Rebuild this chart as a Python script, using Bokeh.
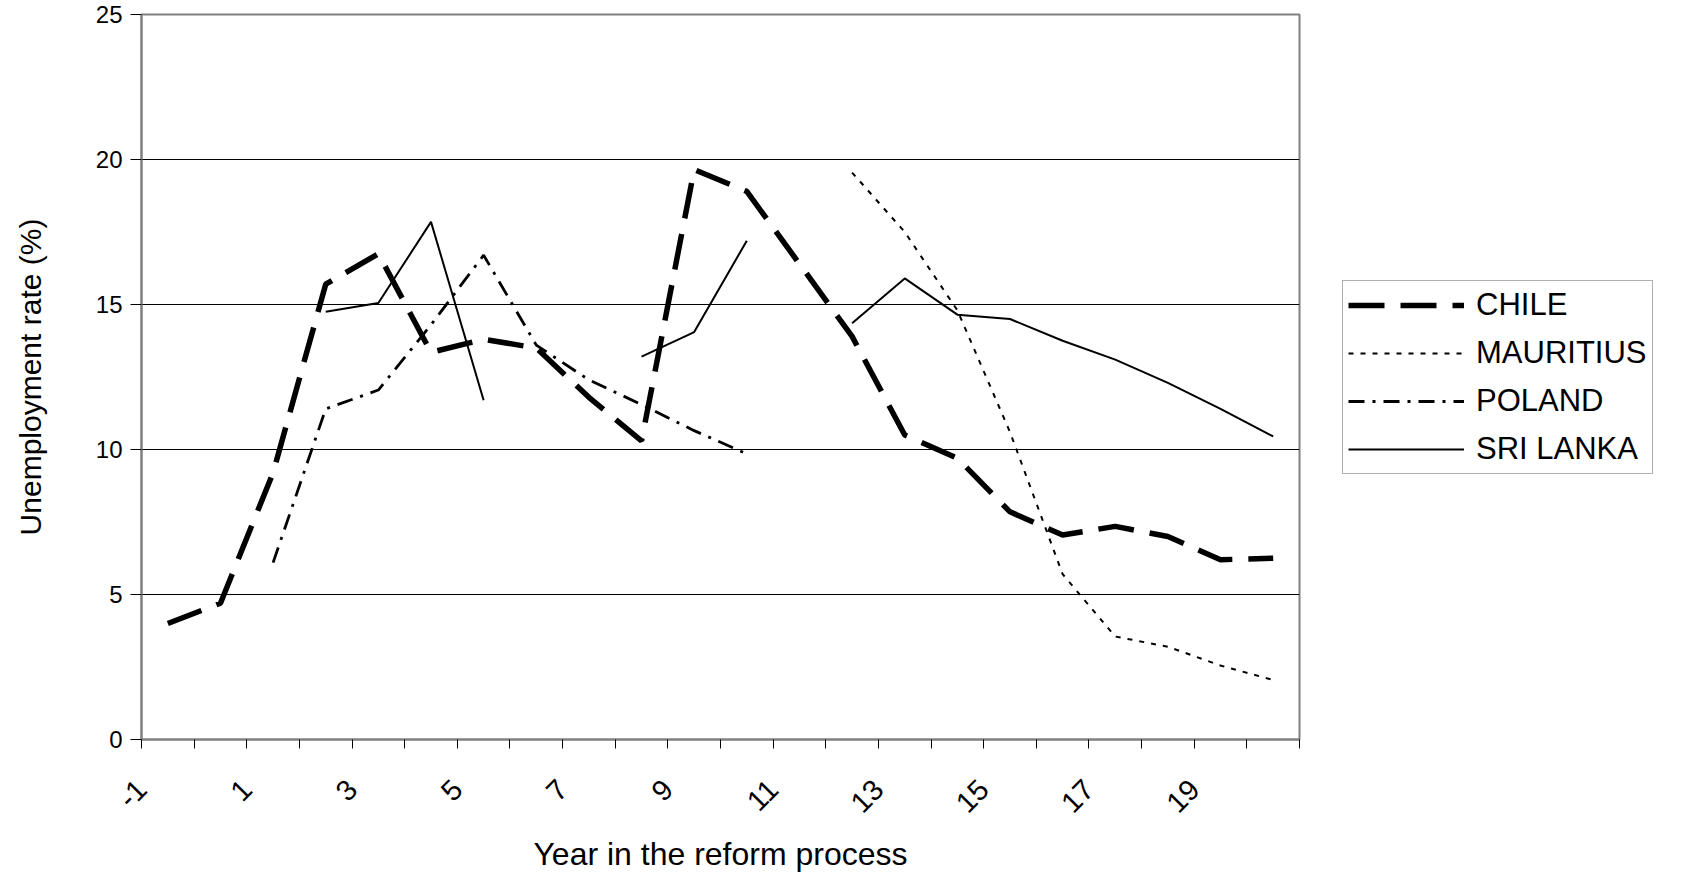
import numpy as np
from bokeh.plotting import figure
from bokeh.models import Range1d, FixedTicker, Legend, LegendItem
from bokeh.embed import file_html
from bokeh.resources import INLINE
import math

nan = np.nan
years = list(range(-1, 21))
chile = [4.0, 4.7, 9.2, 15.7, 16.75, 13.35, 13.8, 13.5, 11.8, 10.3, 19.65, 18.9,
         16.4, 13.9, 10.5, 9.7, 7.85, 7.05, 7.35, 7.0, 6.2, 6.25]
mauritius = [nan, nan, nan, nan, nan, nan, nan, nan, nan, nan, nan, nan,
             nan, 19.55, 17.5, 14.8, 10.6, 5.7, 3.55, 3.2, 2.55, 2.05]
poland = [nan, nan, 6.1, 11.4, 12.05, 14.3, 16.7, 13.6, 12.4, 11.55, 10.65, 9.85,
          nan, nan, nan, nan, nan, nan, nan, nan, nan, nan]
sri_lanka = [nan, nan, nan, 14.75, 15.05, 17.85, 11.7, nan, nan, 13.2, 14.05, 17.2,
             nan, 14.35, 15.9, 14.65, 14.5, 13.75, 13.1, 12.3, 11.4, 10.45]
tick_years = list(range(-1, 22))
labelled = [-1, 1, 3, 5, 7, 9, 11, 13, 15, 17, 19]
y_ticks = [0, 5, 10, 15, 20, 25]

# points sit in the middle of each year's slot
xpos = [y + 0.5 for y in years]

FONT = "Liberation Sans"

p = figure(frame_width=1158, frame_height=725,
           min_border_left=141, min_border_top=14, min_border_right=391, min_border_bottom=120,
           x_range=Range1d(-1, 21), y_range=Range1d(0, 25),
           output_backend="svg", toolbar_location=None)
p.background_fill_color = "white"
p.border_fill_color = "white"
p.outline_line_color = "#808080"
p.outline_line_width = 2

r_chile = p.line(xpos, chile, line_color="black", line_width=5.5, line_dash="36 16")
r_maur = p.line(xpos, mauritius, line_color="black", line_width=2, line_dash="5 7")
r_pol = p.line(xpos, poland, line_color="black", line_width=2.8, line_dash="16 8 3 8")
r_sri = p.line(xpos, sri_lanka, line_color="black", line_width=2)

p.xgrid.visible = False
p.ygrid.grid_line_color = "black"
p.ygrid.grid_line_width = 1
p.ygrid.ticker = FixedTicker(ticks=y_ticks)

xa = p.xaxis[0]
xa.ticker = FixedTicker(ticks=tick_years)
xa.major_label_overrides = {t: (str(t) if t in labelled else "") for t in tick_years}
xa.major_label_orientation = math.pi / 4
xa.major_label_text_font = FONT
xa.major_label_text_font_size = "29px"
xa.major_label_text_color = "black"
xa.major_label_standoff = 36
xa.major_tick_out = 9
xa.major_tick_in = 0
xa.minor_tick_line_color = None
xa.axis_line_color = "#808080"
xa.axis_line_width = 2
xa.major_tick_line_color = "black"
xa.axis_label = "Year in the reform process"
xa.axis_label_text_font = FONT
xa.axis_label_text_font_size = "32px"
xa.axis_label_text_font_style = "normal"
xa.axis_label_text_color = "black"
xa.axis_label_standoff = 12

ya = p.yaxis[0]
ya.ticker = FixedTicker(ticks=y_ticks)
ya.major_label_text_font = FONT
ya.major_label_text_font_size = "24px"
ya.major_label_text_color = "black"
ya.major_label_standoff = 8
ya.major_tick_out = 11
ya.major_tick_in = 0
ya.minor_tick_line_color = None
ya.axis_line_color = "#808080"
ya.axis_line_width = 2
ya.major_tick_line_color = "black"
ya.axis_label = "Unemployment rate (%)"
ya.axis_label_text_font = FONT
ya.axis_label_text_font_size = "30px"
ya.axis_label_text_font_style = "normal"
ya.axis_label_text_color = "black"
ya.axis_label_standoff = 46

legend = Legend(items=[
    LegendItem(label="CHILE", renderers=[r_chile]),
    LegendItem(label="MAURITIUS", renderers=[r_maur]),
    LegendItem(label="POLAND", renderers=[r_pol]),
    LegendItem(label="SRI LANKA", renderers=[r_sri]),
], location="center_left")
legend.margin = 43
legend.padding = 5
legend.spacing = 10
legend.glyph_width = 116
legend.glyph_height = 38
legend.label_height = 38
legend.label_standoff = 12
legend.label_text_font = FONT
legend.label_text_font_size = "31px"
legend.label_text_color = "black"
legend.border_line_color = "#606060"
legend.border_line_width = 1.5
legend.background_fill_color = "white"
legend.background_fill_alpha = 1
p.add_layout(legend, "right")

open("out.html", "w").write(file_html(p, INLINE))
